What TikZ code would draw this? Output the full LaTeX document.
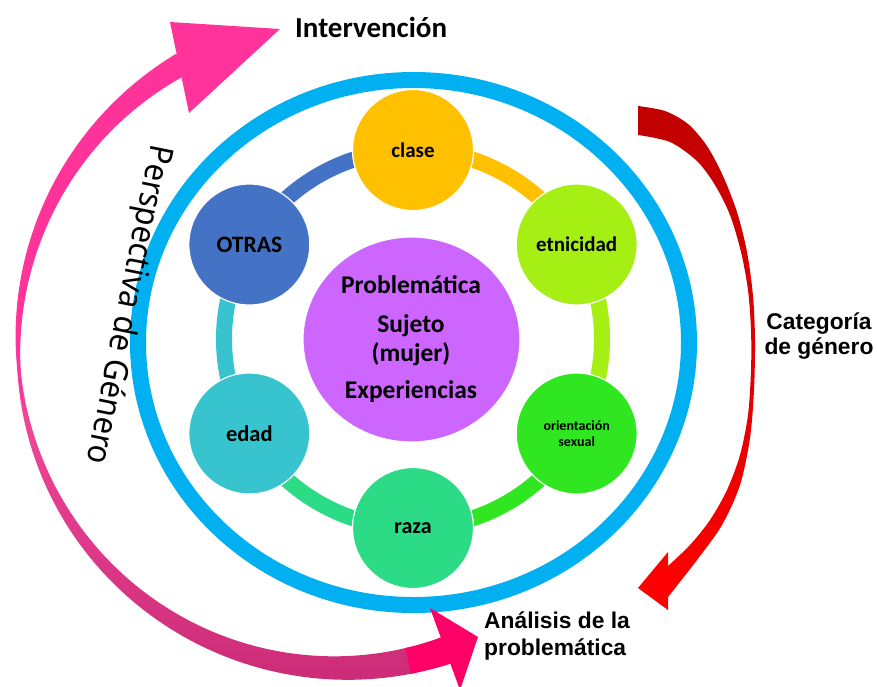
\documentclass[tikz,border=0pt]{standalone}
\usepackage{fontspec}
\usepackage{graphicx}
\setmainfont{Carlito}
\newfontfamily\arialf{Liberation Sans}
\newfontfamily\persf{Noto Sans}
\usetikzlibrary{shapes.geometric}
\definecolor{ringblue}{HTML}{00B0F0}
\definecolor{cclase}{HTML}{FFC000}
\definecolor{cetn}{HTML}{A6EF14}
\definecolor{cori}{HTML}{2FE620}
\definecolor{craza}{HTML}{2BDB85}
\definecolor{cedad}{HTML}{38C4CE}
\definecolor{cotras}{HTML}{4472C4}
\definecolor{cprob}{HTML}{CC66FF}
\definecolor{pinkA}{HTML}{FF3399}
\definecolor{pinkL}{HTML}{FF4FA6}
\definecolor{pinkB}{HTML}{FF0066}
\definecolor{magB}{HTML}{CC2C77}
\definecolor{redA}{HTML}{C00000}
\definecolor{redB}{HTML}{FF0000}
\begin{document}
\begin{tikzpicture}[x=1pt,y=-1pt,
  dot/.style={circle, minimum size=121pt, inner sep=0pt, draw=white, line width=1.2pt,
    font=\fontsize{21}{22}\selectfont\bfseries, text=black},
  seg/.style={line width=16pt},
  txt/.style={inner sep=0pt, text=black},
  midtxt/.style={txt, anchor=base, font=\fontsize{25.5}{25.5}\selectfont\bfseries},
  sidetxt/.style={txt, anchor=base, font=\arialf\bfseries\fontsize{22.8}{22.8}\selectfont}]
\useasboundingbox (0,0) rectangle (877,686);
\fill[white] (0,0) rectangle (877,686);

% outer blue ring
\draw[ringblue, line width=16pt] (413.5,342.5) ellipse [x radius=275.5, y radius=262.5];

% hexagon positions
\coordinate (hc) at (413,339);
\coordinate (pclase) at ([shift={(270:189)}]hc);
\coordinate (petn) at ([shift={(330:189)}]hc);
\coordinate (pori) at ([shift={(30:189)}]hc);
\coordinate (praza) at ([shift={(90:189)}]hc);
\coordinate (pedad) at ([shift={(150:189)}]hc);
\coordinate (potras) at ([shift={(210:189)}]hc);

% ring segments
\draw[seg, cotras] (potras) arc[start angle=210, end angle=270, radius=189];
\draw[seg, cclase] (pclase) arc[start angle=270, end angle=330, radius=189];
\draw[seg, cetn] (petn) arc[start angle=-30, end angle=30, radius=189];
\draw[seg, cori] (pori) arc[start angle=30, end angle=90, radius=189];
\draw[seg, craza] (praza) arc[start angle=90, end angle=150, radius=189];
\draw[seg, cedad] (pedad) arc[start angle=150, end angle=210, radius=189];

% circles
\node[dot, fill=cclase] (clase) at (pclase) {clase};
\node[dot, fill=cetn] (etn) at (petn) {etnicidad};
\node[dot, fill=cori, font=\fontsize{14}{15.5}\selectfont\bfseries, align=center] (ori) at (pori) {orientación\\sexual};
\node[dot, fill=craza, font=\fontsize{22}{22}\selectfont\bfseries] (raza) at (praza) {raza};
\node[dot, fill=cedad, font=\fontsize{22.5}{22.5}\selectfont\bfseries] (edad) at (pedad) {edad};
\node[dot, fill=cotras, font=\fontsize{23.5}{23.5}\selectfont\bfseries] (otras) at (potras) {OTRAS};

% center
\node[ellipse, fill=cprob, draw=white, line width=1.2pt, minimum width=217pt, minimum height=205pt, inner sep=0pt] (prob) at (411.5,339.5) {};
\node[midtxt] (t1) at (411,293) {Problemática};
\node[midtxt] (t2) at (411,332) {Sujeto};
\node[midtxt] (t3) at (411,361) {(mujer)};
\node[midtxt] (t4) at (411,398) {Experiencias};

% bottom pink arrow (shaded)
\shade[top color=pinkL, middle color=magB!80!pinkA, bottom color=magB]
  plot[domain=185:77, samples=90, variable=\t] ({341+(323+(1+0.2368*(185-\t))/2)*cos(\t)}, {345+(323+(1+0.2368*(185-\t))/2)*sin(\t)})
  -- plot[domain=77:185, samples=90, variable=\t] ({341+(323-(1+0.2368*(185-\t))/2)*cos(\t)}, {345+(323-(1+0.2368*(185-\t))/2)*sin(\t)})
  -- cycle;
\fill[pinkB]
  plot[domain=78:70.5, samples=10, variable=\t] ({341+(323+(1+0.2368*(185-\t))/2)*cos(\t)}, {345+(323+(1+0.2368*(185-\t))/2)*sin(\t)})
  -- plot[domain=70.5:78, samples=10, variable=\t] ({341+(323-(1+0.2368*(185-\t))/2)*cos(\t)}, {345+(323-(1+0.2368*(185-\t))/2)*sin(\t)})
  -- cycle;
\fill[pinkB] (430,608) -- (478,637) -- (460,690) -- cycle;

% top pink arrow
\fill[pinkA]
  plot[domain=168.4:240.5, samples=90, variable=\t] ({341+(323+(1+0.31*(\t-168.4))/2)*cos(\t)}, {345+(323+(1+0.31*(\t-168.4))/2)*sin(\t)})
  -- plot[domain=240.5:168.4, samples=90, variable=\t] ({341+(323-(1+0.31*(\t-168.4))/2)*cos(\t)}, {345+(323-(1+0.31*(\t-168.4))/2)*sin(\t)})
  -- cycle;
\fill[pinkA] (170,22) -- (280,29) -- (189,113) -- cycle;

% red arrow
\shade[top color=redA, middle color=redB, bottom color=redB]
  plot[smooth] coordinates {(638,106) (665,111) (688,124) (707,146) (723,176) (737,212) (747,252) (753,296) (755,340) (754,390) (750,438) (740,485) (722,525) (697,560) (668,597)}
  -- plot[smooth] coordinates {(668,566) (690,545) (710,520) (727,490) (740,455) (748,415) (751,370) (751,330) (748,290) (741,252) (730,215) (715,185) (697,161) (670,142) (638,135)}
  -- cycle;
\fill[redB] (668,552) -- (638,588) -- (668,610) -- cycle;

% labels
\node[txt, anchor=base west, font=\fontsize{29}{29}\selectfont\bfseries] (interv) at (295,37) {Intervención};
\node[sidetxt] (cat1) at (819,329) {Categoría};
\node[sidetxt] (cat2) at (819,354) {de género};
\node[sidetxt, anchor=base west] (an1) at (484,628) {Análisis de la};
\node[sidetxt, anchor=base west] (an2) at (484,655) {problemática};
\node[txt, anchor=base, rotate=-101.4, font=\persf\fontsize{33}{33}\selectfont] (persp) at (119,303) {\scalebox{0.93}[1]{Perspectiva de Género}};
\end{tikzpicture}
\end{document}
